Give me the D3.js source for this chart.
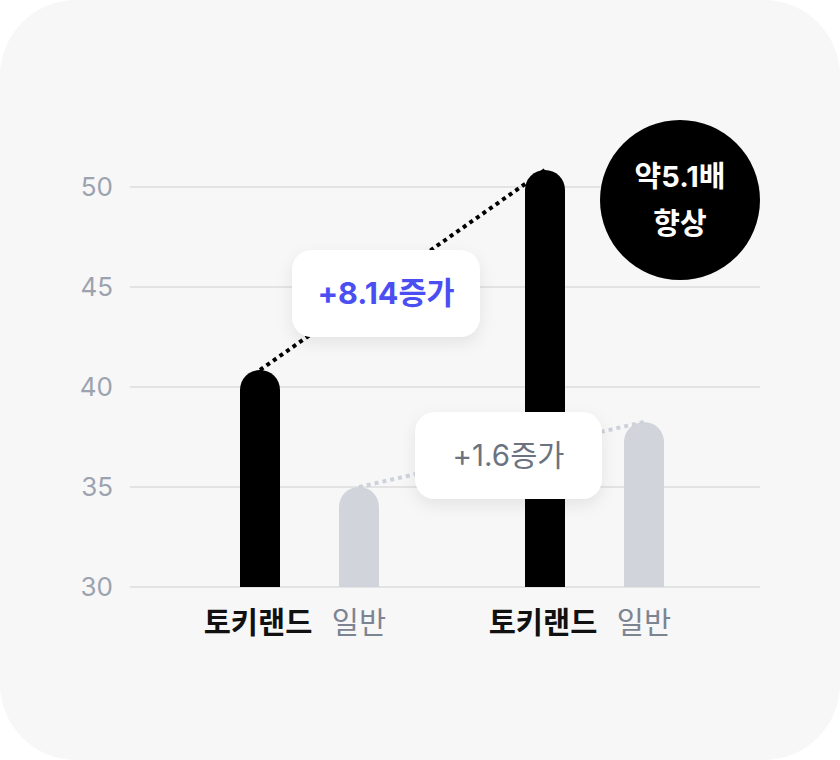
<!DOCTYPE html>
<html><head><meta charset="utf-8">
<script src="https://cdn.jsdelivr.net/npm/d3@7"></script>
<style>
html,body{margin:0;padding:0;background:#ffffff;}
svg{display:block;}
text{font-family:Inter,"Noto Sans CJK KR",sans-serif;}
</style></head>
<body>
<svg id="chart" width="840" height="760"></svg>
<script>
const groups = ["G1", "G2"];
const series = ["토키랜드", "일반"];
const toki = [40.85, 50.85];
const normal = [35, 38.25];
const yTicks = [30, 35, 40, 45, 50];
const gainLabels = ["+8.14증가", "+1.6증가"];
const badgeLines = ["약5.1배", "향상"];

const svg = d3.select("#chart");
const W = 840, H = 760;

// card
svg.append("rect").attr("x",0).attr("y",0).attr("width",W).attr("height",H)
  .attr("rx",76).attr("ry",76).attr("fill","#f7f7f7");

const defs = svg.append("defs");
const f = defs.append("filter").attr("id","sh").attr("x","-30%").attr("y","-30%").attr("width","160%").attr("height","180%");
f.append("feDropShadow").attr("dx",0).attr("dy",6).attr("stdDeviation",8)
  .attr("flood-color","#000").attr("flood-opacity",0.08);

const y = d3.scaleLinear().domain([30,50]).range([587,187]);
const gx = d3.scalePoint().domain(groups).range([310,595]);
const sx = d3.scalePoint().domain(series).range([-50,49]);
const barW = 40;

// grid
svg.append("g").selectAll("line").data(yTicks).join("line")
  .attr("x1",130).attr("x2",760)
  .attr("y1",d=>y(d)).attr("y2",d=>y(d))
  .attr("stroke","#dcdcdc").attr("stroke-width",1.5);

svg.append("g").selectAll("text").data(yTicks).join("text")
  .attr("x",113).attr("y",d=>y(d)).attr("dy","0.36em")
  .attr("text-anchor","end").attr("font-size",26).attr("fill","#9ca3af")
  .text(d=>d);

const bars = [];
groups.forEach((g,i)=>{
  bars.push({g, s:series[0], v:toki[i]});
  bars.push({g, s:series[1], v:normal[i]});
});
const cx = d => gx(d.g) + sx(d.s);

function barPath(d){
  const x0 = cx(d)-barW/2, x1 = cx(d)+barW/2, r = barW/2;
  const top = y(d.v), base = y(30);
  return `M${x0},${base}L${x0},${top+r}A${r},${r} 0 0 1 ${x1},${top+r}L${x1},${base}Z`;
}
svg.append("g").selectAll("path").data(bars).join("path")
  .attr("d",barPath)
  .attr("fill",d=>d.s===series[0]?"#000000":"#d1d5db");

// dotted connectors
const tokiBars = bars.filter(d=>d.s===series[0]);
const normBars = bars.filter(d=>d.s===series[1]);
const line = d3.line().x(d=>cx(d)).y(d=>y(d.v));
svg.append("path").attr("d",line(normBars)).attr("fill","none")
  .attr("stroke","#cdd2da").attr("stroke-width",4).attr("stroke-dasharray","4 4");
svg.append("path").attr("d",line(tokiBars)).attr("fill","none")
  .attr("stroke","#000").attr("stroke-width",4).attr("stroke-dasharray","4 4");

// label boxes
const boxes = [
  {x:292, y:250, w:188, h:87, text:gainLabels[0], color:"#4b4ff2", weight:700, fs:30.5},
  {x:415, y:412, w:187, h:87, text:gainLabels[1], color:"#6b7280", weight:400, fs:29.5}
];
const bg = svg.append("g").selectAll("g").data(boxes).join("g");
bg.append("rect").attr("x",d=>d.x).attr("y",d=>d.y).attr("width",d=>d.w).attr("height",d=>d.h)
  .attr("rx",20).attr("fill","#fff").attr("filter","url(#sh)");
bg.append("text").attr("x",d=>d.x+d.w/2).attr("y",d=>d.y+d.h/2).attr("dy","0.36em")
  .attr("text-anchor","middle").attr("font-size",d=>d.fs)
  .attr("font-weight",d=>d.weight).attr("fill",d=>d.color).text(d=>d.text);

// badge
svg.append("circle").attr("cx",680).attr("cy",200).attr("r",80).attr("fill","#000");
svg.append("g").selectAll("text").data(badgeLines).join("text")
  .attr("x",680).attr("y",(d,i)=>187+i*47)
  .attr("text-anchor","middle").attr("font-size",29).attr("font-weight",700)
  .attr("fill","#fff").text(d=>d);

// category labels
svg.append("g").selectAll("text").data(bars).join("text")
  .attr("x",d=>cx(d)-(d.s===series[0]?2:0)).attr("y",633)
  .attr("text-anchor","middle").attr("font-size",29.5)
  .attr("font-weight",d=>d.s===series[0]?700:400)
  .attr("fill",d=>d.s===series[0]?"#111111":"#7d8491")
  .text(d=>d.s);
</script>
</body></html>
